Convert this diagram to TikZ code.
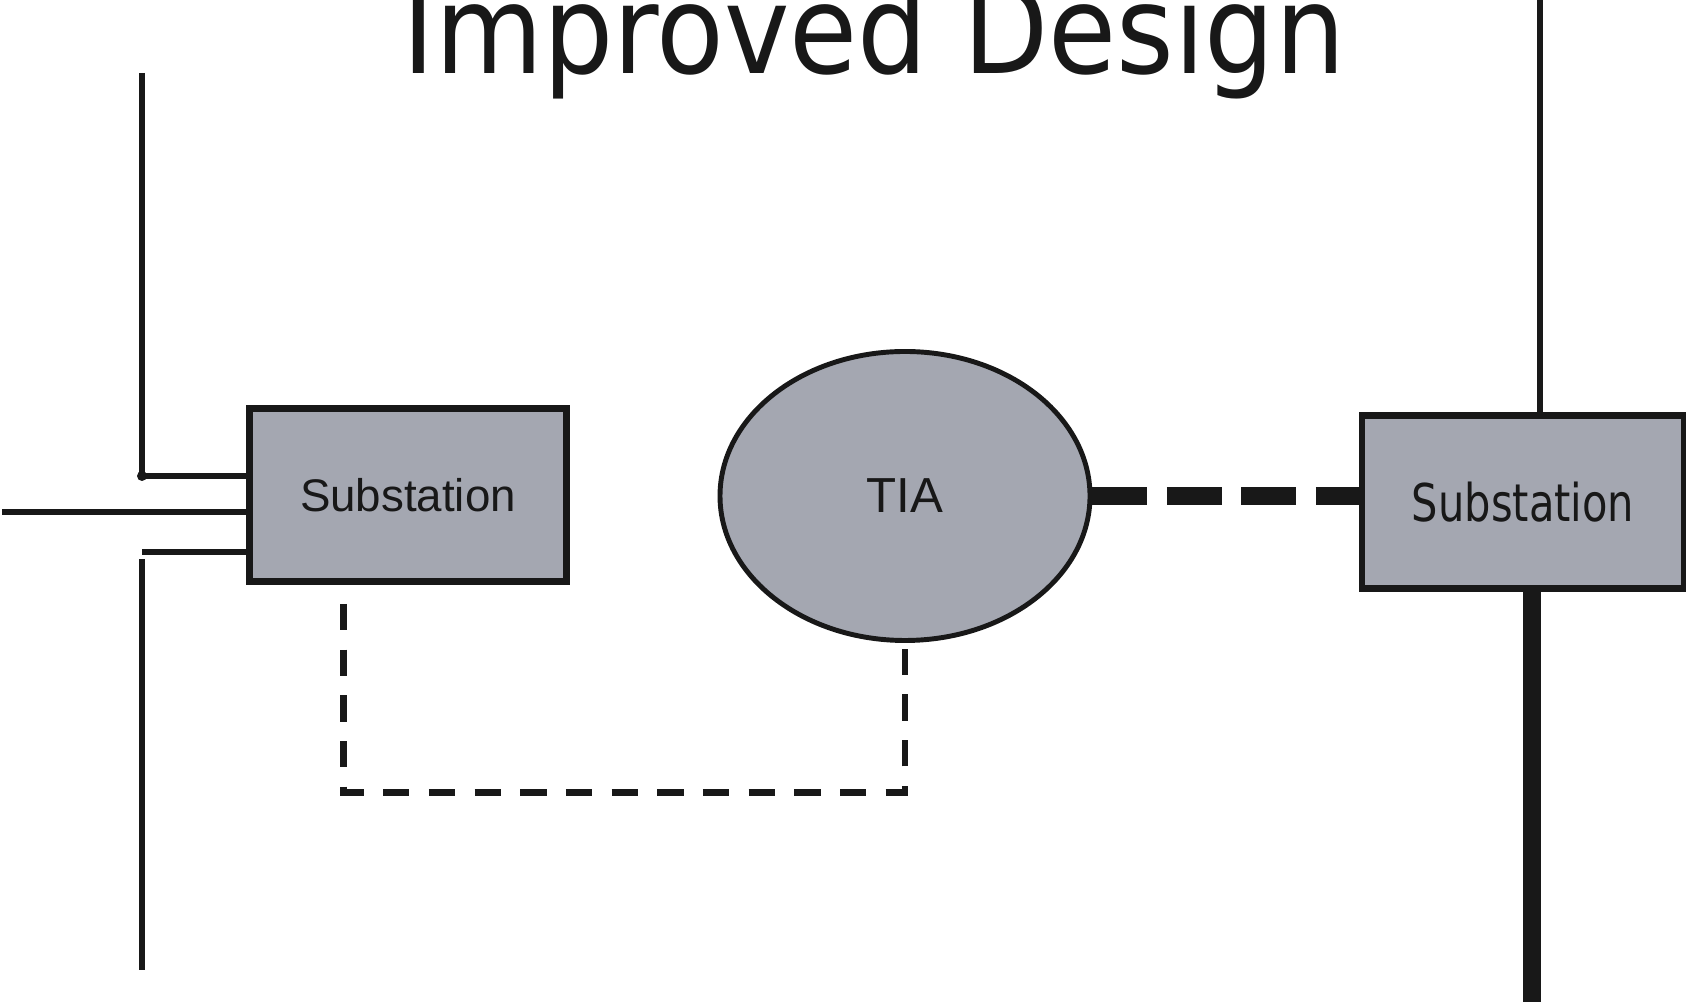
\documentclass[tikz,border=0pt]{standalone}
\usepackage{fontspec}
\setmainfont{Liberation Sans}
\newfontfamily\condfont[FakeStretch=0.8]{DejaVu Sans}
\newfontfamily\headfont[FakeStretch=0.9]{DejaVu Sans}
\usetikzlibrary{shapes.geometric, calc}
\definecolor{unitgray}{RGB}{164,167,177}
\definecolor{wire}{RGB}{24,24,24}

\begin{document}
\begin{tikzpicture}[
  every node/.style={align=center, text=wire},
  unit/.style={draw=wire, line width=1.8pt, fill=unitgray, inner sep=0pt},
  feeder/.style={draw=wire, line width=1.8pt},
  trunk/.style={draw=wire, line width=5pt},
  link/.style={draw=wire, line width=1.9pt, dash pattern=on 7.5pt off 5.5pt, dash phase=7.5pt}
]

%% Parameters
\def\W{16.86}   % picture width
\def\H{10.02}   % picture height
\def\busL{1.42} % x-position of left bus

\clip (0,0) rectangle (\W,\H);

%% ---- Title ----
\node[anchor=base, font=\headfont\fontsize{35}{40}\selectfont] (title)
  at (8.74,9.28) {Improved Design};

%% ---- Units ----
\node[unit, minimum width=3.17cm, minimum height=1.73cm,
      font=\fontsize{13}{15}\selectfont] (subL) at (4.08,5.07) {Substation};
\node[unit, ellipse, line width=1.4pt, minimum width=3.70cm, minimum height=2.89cm,
      font=\fontsize{14}{16}\selectfont] (tia) at (9.05,5.06) {TIA};
\node[unit, minimum width=3.22cm, minimum height=1.73cm,
      font=\condfont\fontsize{14.8}{17}\selectfont] (subR) at (15.23,5.0) {Substation};

%% ---- Left bus and feeders ----
\coordinate (busTop) at (\busL,9.29);
\coordinate (tapA)   at (\busL,5.26);
\coordinate (tapB)   at (\busL,4.50);
\coordinate (busGap) at (\busL,4.43);
\coordinate (busBot) at (\busL,0.32);
\coordinate (inLeft) at (0.02,4.90);

\draw[feeder] (busTop) -- (tapA) -- (tapA -| subL.west);
\fill[wire] (tapA) circle (0.05);
\draw[feeder] (inLeft) -- (inLeft -| subL.west);
\draw[feeder] (tapB) -- (tapB -| subL.west);
\draw[feeder] (busGap) -- (busBot);

%% ---- Right bus ----
\coordinate (busRtop) at (15.40,\H);
\coordinate (busRbot) at (15.32,0);
\draw[feeder] (busRtop) -- (busRtop |- subR.north);
\draw[trunk] (busRbot |- subR.south) -- (busRbot);

%% ---- Links ----
\draw[trunk, dash pattern=on 0.55cm off 0.195cm]
  (tia.east) -- (tia.east -| subR.west);

\coordinate (tap) at ($(subL.south west)!0.3!(subL.south east)$);
\draw[link] (tap) -- ++(0,-2.08) -| (tia.south);

\end{tikzpicture}
\end{document}
